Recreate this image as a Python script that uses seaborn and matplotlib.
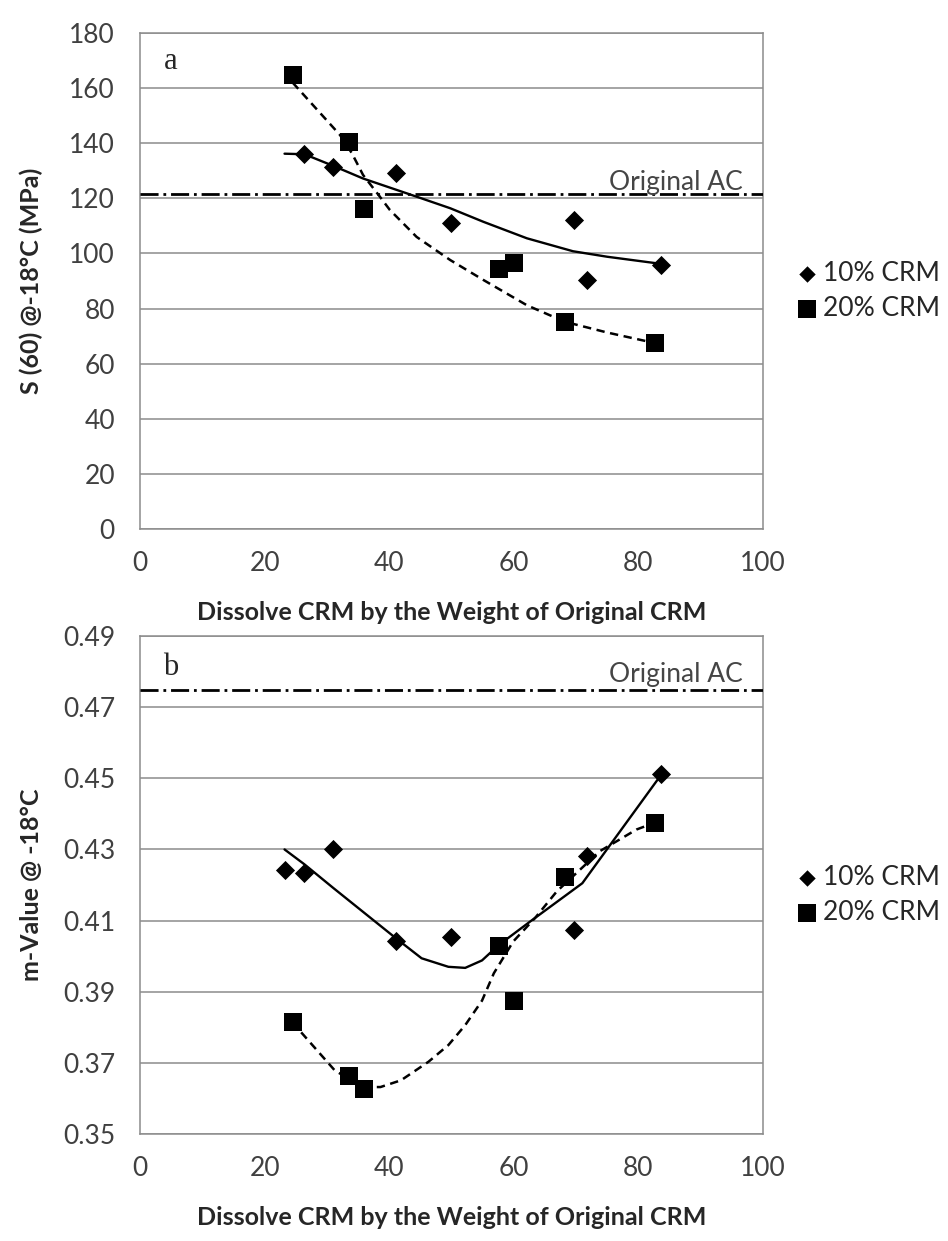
import numpy as np
import matplotlib
matplotlib.use("Agg")
import matplotlib.pyplot as plt
import seaborn as sns

# Dissolved CRM (% by weight of original CRM) of each binder sample
dissolved_10 = [23.2, 26.4, 31.0, 41.1, 49.9, 69.7, 71.8, 83.7]
dissolved_20 = [24.5, 33.6, 35.9, 57.6, 60.1, 68.2, 82.6]

# Creep stiffness S(60) at -18 °C in MPa (no stiffness result for the first 10 % sample)
stiffness_10 = [np.nan, 136.1, 131.5, 129.3, 111.2, 112.1, 90.4, 95.9]
stiffness_20 = [164.9, 140.3, 116.2, 94.3, 96.4, 75.2, 67.5]
stiffness_original = 121.5

# m-value at -18 °C
mvalue_10 = [0.4243, 0.4233, 0.4302, 0.4043, 0.4054, 0.4074, 0.4282, 0.4511]
mvalue_20 = [0.3815, 0.3662, 0.3626, 0.4029, 0.3875, 0.4222, 0.4375]
mvalue_original = 0.4747

# Trend curves
stiff_trend_10_x = [23.2, 26.4, 31.0, 35.8, 44.4, 49.8, 55.1, 62.1, 69.5, 75.0, 83.7]
stiff_trend_10_y = [136.2, 136.0, 131.8, 127.2, 120.6, 116.4, 111.5, 105.5, 100.8, 98.8, 96.2]
stiff_trend_20_x = [24.5, 32.1, 34.0, 35.8, 38.5, 40.1, 44.4, 49.8, 55.1, 62.1, 68.2, 75.0, 82.6]
stiff_trend_20_y = [162.0, 143.0, 136.4, 128.5, 120.6, 115.8, 106.0, 97.6, 90.4, 81.2, 75.2, 71.3, 67.5]

m_trend_10_x = [23.2, 26.4, 31.0, 41.1, 45.2, 49.5, 52.2, 54.9, 57.5, 62.6, 71.0, 83.7]
m_trend_10_y = [0.4300, 0.4258, 0.4192, 0.4050, 0.3994, 0.3970, 0.3967, 0.3988, 0.4030, 0.4097, 0.4205, 0.4511]
m_trend_20_x = [24.4, 31.3, 33.6, 35.9, 38.6, 41.9, 46.3, 49.5, 52.2, 54.9, 56.8, 59.9, 63.4, 66.9, 73.8, 79.7, 82.6]
m_trend_20_y = [0.3815, 0.3678, 0.3655, 0.3632, 0.3632, 0.3651, 0.3703, 0.3750, 0.3806, 0.3875, 0.3952,
                0.4041, 0.4107, 0.4182, 0.4295, 0.4356, 0.4375]

x_ticks = [0, 20, 40, 60, 80, 100]
stiff_ticks = [0, 20, 40, 60, 80, 100, 120, 140, 160, 180]
m_ticks = [0.35, 0.37, 0.39, 0.41, 0.43, 0.45, 0.47, 0.49]

series_labels = ["10% CRM", "20% CRM"]
x_title = "Dissolve CRM by the Weight of Original CRM"
ref_label = "Original AC"

sns.set_style("white")
plt.rcParams["font.family"] = ["Lato", "DejaVu Sans"]
plt.rcParams["lines.scale_dashes"] = False

GRID = "#8c8c8c"
TICK_TXT = "#404040"
FS = 19

fig = plt.figure(figsize=(9.48, 12.41), dpi=100)
ax_a = fig.add_axes([140 / 948, 1 - 529 / 1241, 623 / 948, 496 / 1241])
ax_b = fig.add_axes([140 / 948, 1 - 1134 / 1241, 623 / 948, 498 / 1241])


def draw_panel(ax, y10, y20, t10x, t10y, t20x, t20y, ref, yticks, ylim, ylabel, yfmt,
               letter, letter_y, ref_text_y):
    ax.set_xlim(0, 100)
    ax.set_ylim(*ylim)
    ax.set_xticks(x_ticks)
    ax.set_yticks(yticks)
    ax.set_yticklabels([yfmt.format(v) for v in yticks])
    ax.grid(axis="y", color=GRID, lw=1.1)
    ax.grid(axis="x", visible=False)
    for sp in ax.spines.values():
        sp.set_visible(True)
        sp.set_color(GRID)
        sp.set_linewidth(1.1)
    ax.tick_params(direction="out", length=8, width=1.1, color=GRID,
                   labelsize=FS, labelcolor=TICK_TXT, pad=8)
    ax.tick_params(axis="y", pad=10)

    # trend curves
    sns.lineplot(x=t10x, y=t10y, sort=False, estimator=None, color="black",
                 lw=1.7, ax=ax, zorder=3)
    sns.lineplot(x=t20x, y=t20y, sort=False, estimator=None, color="black",
                 lw=1.8, ax=ax, zorder=3)
    ax.lines[-1].set_dashes((6, 4))

    # reference binder level
    ax.axhline(ref, color="black", lw=2.0, dashes=(13, 3.5, 2, 3.5), zorder=3)
    ax.text(96.8, ref_text_y, ref_label, ha="right", va="baseline",
            fontsize=FS, color="#454545")

    # measurements
    sns.scatterplot(x=dissolved_10, y=y10, marker="D", s=95, color="black",
                    edgecolor="black", linewidth=0, ax=ax, zorder=4,
                    label=series_labels[0])
    sns.scatterplot(x=dissolved_20, y=y20, marker="s", s=155, color="black",
                    edgecolor="black", linewidth=0, ax=ax, zorder=4,
                    label=series_labels[1])

    ax.text(5.0, letter_y, letter, ha="center", va="center", fontsize=22,
            family=["Liberation Serif", "DejaVu Serif"])

    ax.set_xlabel(x_title, fontsize=FS - 1, fontweight="bold", color="#262626")
    ax.set_ylabel(ylabel, fontsize=FS - 1, fontweight="bold", color="#262626")
    ax.xaxis.set_label_coords(0.5, -0.145)
    ax.yaxis.set_label_coords(-0.155, 0.5)

    handles, labels = ax.get_legend_handles_labels()
    leg = ax.legend(handles, labels, loc="center left", bbox_to_anchor=(1.035, 0.48),
                    frameon=False, fontsize=FS, handletextpad=0.15, labelspacing=0.35,
                    handlelength=0.9, borderaxespad=0, labelcolor="#262626")
    leg.legend_handles[0].set_sizes([70])


draw_panel(ax_a, stiffness_10, stiffness_20, stiff_trend_10_x, stiff_trend_10_y,
           stiff_trend_20_x, stiff_trend_20_y, stiffness_original, stiff_ticks,
           (0, 180), "S (60) @-18°C (MPa)", "{:.0f}", "a", 169.7, 123.0)
draw_panel(ax_b, mvalue_10, mvalue_20, m_trend_10_x, m_trend_10_y,
           m_trend_20_x, m_trend_20_y, mvalue_original, m_ticks,
           (0.35, 0.49), "m-Value @ -18°C", "{:.2f}", "b", 0.4812, 0.4770)

fig.savefig("out.png", dpi=100)
